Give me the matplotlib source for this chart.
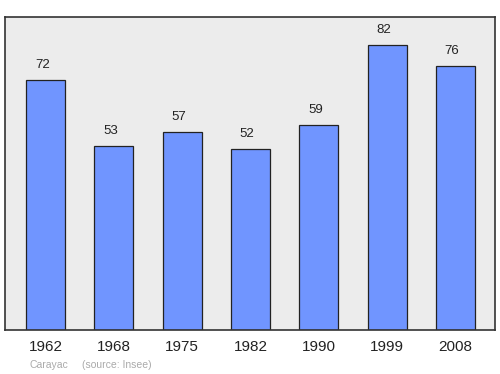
import matplotlib.pyplot as plt
import numpy as np

plt.rcParams['font.family'] = ['Liberation Sans', 'DejaVu Sans']

years = ["1962", "1968", "1975", "1982", "1990", "1999", "2008"]
population = [72, 53, 57, 52, 59, 82, 76]
commune = "Carayac"
source = "(source: Insee)"

fig = plt.figure(figsize=(5, 3.74), dpi=100)
ax = fig.add_axes([0.01, 0.1176, 0.98, 0.8369])
ax.set_facecolor("#ececec")

x = np.arange(len(years))
bars = ax.bar(x, population, width=0.57, color="#7095ff", edgecolor="#222222", linewidth=0.9)
for xi, v in zip(x, population):
    ax.text(xi - 0.05, v + 2.6, str(v), ha="center", va="bottom", fontsize=9.5, color="#222222")

ax.set_xlim(-0.595, 6.58)
ax.set_ylim(0, 90)
ax.set_yticks([])
ax.set_xticks(x)
ax.set_xticklabels(years, fontsize=11, color="#222222")
ax.tick_params(axis="x", length=0, pad=7)
for s in ax.spines.values():
    s.set_color("#333333")
    s.set_linewidth(1.2)

fig.text(30 / 500, 1 - 365 / 374, commune, fontsize=7.5, color="#aaaaaa", va="center")
fig.text(82 / 500, 1 - 365 / 374, source, fontsize=7.5, color="#aaaaaa", va="center")

fig.savefig("out.png", dpi=100)
